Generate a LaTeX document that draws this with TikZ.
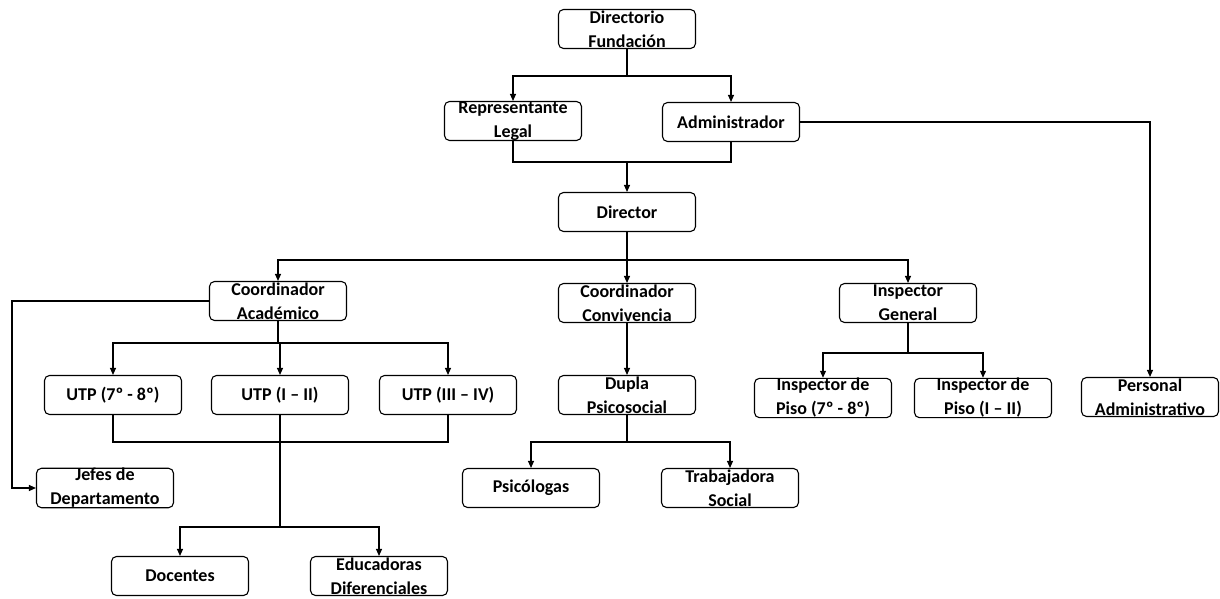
\documentclass[tikz,border=0pt]{standalone}
\usepackage{fontspec}
\setmainfont{Carlito}
\usetikzlibrary{arrows.meta}
\begin{document}
\begin{tikzpicture}[x=1pt,y=-1pt,
  box/.style={draw=black,line width=1.1pt,rounded corners=5pt,minimum width=137pt,minimum height=39pt,inner sep=0pt,align=center,font=\fontsize{18}{24}\selectfont\bfseries},
  conn/.style={draw=black,line width=1.1pt},
  arr/.style={conn,-{Triangle[length=7pt,width=6pt]}}]
\useasboundingbox[fill=white] (0,0) rectangle (1220,599);
% nodes
\node[box] (df) at (627,29) {Directorio\\Fundación};
\node[box] (rep) at (513,121) {Representante\\Legal};
\node[box] (adm) at (731,122) {Administrador};
\node[box] (dir) at (627,212) {Director};
\node[box] (ca) at (278,301) {Coordinador\\Académico};
\node[box] (cc) at (627,303) {Coordinador\\Convivencia};
\node[box] (ig) at (908,303) {Inspector\\General};
\node[box] (u1) at (113,395) {UTP (7º - 8º)};
\node[box] (u2) at (280,395) {UTP (I – II)};
\node[box] (u3) at (448,395) {UTP (III – IV)};
\node[box] (dp) at (627,395) {Dupla\\Psicosocial};
\node[box] (ip1) at (823,398) {Inspector de\\Piso (7º - 8º)};
\node[box] (ip2) at (983,398) {Inspector de\\Piso (I – II)};
\node[box] (pa) at (1150,397) {Personal\\Administrativo};
\node[box] (jd) at (105,488) {Jefes de\\Departamento};
\node[box] (psi) at (531,488) {Psicólogas};
\node[box] (ts) at (730,488) {Trabajadora\\Social};
\node[box] (doc) at (180,576) {Docentes};
\node[box] (edu) at (379,576) {Educadoras\\Diferenciales};
% junctions
\coordinate (b1) at (627,76);
\coordinate (b2) at (627,162);
\coordinate (b3) at (627,260);
\coordinate (c4) at (12,301);
\coordinate (b5) at (278,343);
\coordinate (b6) at (113,442);
\coordinate (b7) at (280,527);
\coordinate (b8) at (627,442);
\coordinate (b9) at (908,353);
% connectors
\draw[conn] (df.south) -- (b1);
\draw[arr] (b1) -| (rep.north);
\draw[arr] (b1) -| (adm.north);
\draw[conn] (rep.south) |- (b2);
\draw[conn] (adm.south) |- (b2);
\draw[arr] (b2) -- (dir.north);
\draw[arr] (adm.east) -| (pa.north);
\draw[conn] (dir.south) -- (b3);
\draw[arr] (b3) -| (ca.north);
\draw[arr] (b3) -- (cc.north);
\draw[arr] (b3) -| (ig.north);
\draw[arr] (ca.west) -- (c4) |- (jd.west);
\draw[conn] (ca.south) -- (b5);
\draw[arr] (b5) -| (u1.north);
\draw[arr] (b5) -| (u2.north);
\draw[arr] (b5) -| (u3.north);
\draw[conn] (u1.south) -- (b6) -| (u3.south);
\draw[conn] (u2.south) -- (b7);
\draw[arr] (b7) -| (doc.north);
\draw[arr] (b7) -| (edu.north);
\draw[arr] (cc.south) -- (dp.north);
\draw[conn] (dp.south) -- (b8);
\draw[arr] (b8) -| (psi.north);
\draw[arr] (b8) -| (ts.north);
\draw[conn] (ig.south) -- (b9);
\draw[arr] (b9) -| (ip1.north);
\draw[arr] (b9) -| (ip2.north);
\end{tikzpicture}
\end{document}
